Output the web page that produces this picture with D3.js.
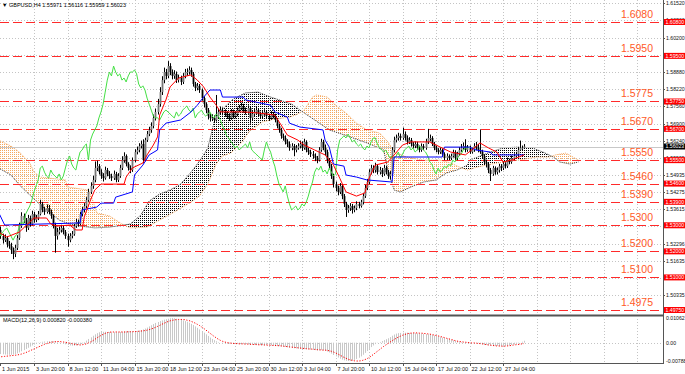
<!DOCTYPE html>
<html><head><meta charset="utf-8">
<script src="https://cdn.jsdelivr.net/npm/d3@7"></script>
<style>body{margin:0;background:#fff;}svg{display:block;font-family:"Liberation Sans",Arial,sans-serif;}</style>
</head><body><svg id="c" width="685" height="374"></svg>
<script>
// ---------- DATA ----------
const symbolHeader = "GBPUSD,H4 1.55971 1.56116 1.55959 1.56023";
const macdHeader = "MACD(12,26,9) 0.000820 -0.000380";
const firstOpen = 1.5275;
const closes = [
1.5282,1.5259,1.5243,1.5251,1.5228,1.5220, 1.5205,1.5190,1.5213,1.5251,1.5297,1.5336,
1.5320,1.5290,1.5328,1.5305,1.5343,1.5320, 1.5328,1.5343,1.5382,1.5359,1.5351,1.5366,
1.5351,1.5336,1.5297,1.5259,1.5274,1.5282, 1.5290,1.5274,1.5259,1.5243,1.5259,1.5266,
1.5297,1.5313,1.5305,1.5343,1.5359,1.5374, 1.5397,1.5428,1.5451,1.5474,1.5520,1.5527,
1.5504,1.5489,1.5481,1.5512,1.5497,1.5489, 1.5481,1.5497,1.5474,1.5489,1.5520,1.5550,
1.5566,1.5535,1.5520,1.5512,1.5550,1.5581, 1.5589,1.5604,1.5612,1.5550,1.5627,1.5650,
1.5666,1.5681,1.5712,1.5735,1.5765,1.5811, 1.5857,1.5888,1.5873,1.5911,1.5888,1.5873,
1.5881,1.5857,1.5865,1.5850,1.5873,1.5888, 1.5888,1.5896,1.5881,1.5842,1.5827,1.5835,
1.5819,1.5788,1.5765,1.5742,1.5719,1.5712, 1.5712,1.5704,1.5719,1.5735,1.5742,1.5735,
1.5727,1.5719,1.5712,1.5735,1.5719,1.5727, 1.5742,1.5750,1.5758,1.5742,1.5735,1.5750,
1.5712,1.5727,1.5735,1.5742,1.5727,1.5719, 1.5727,1.5735,1.5719,1.5712,1.5727,1.5719,
1.5704,1.5681,1.5666,1.5643,1.5635,1.5620, 1.5612,1.5597,1.5604,1.5589,1.5597,1.5604,
1.5612,1.5597,1.5620,1.5589,1.5581,1.5573, 1.5566,1.5558,1.5550,1.5589,1.5620,1.5597,
1.5581,1.5550,1.5527,1.5489,1.5458,1.5443, 1.5428,1.5451,1.5412,1.5382,1.5359,1.5366,
1.5374,1.5359,1.5366,1.5382,1.5374,1.5389, 1.5412,1.5443,1.5466,1.5504,1.5520,1.5512,
1.5527,1.5504,1.5512,1.5497,1.5520,1.5504, 1.5489,1.5497,1.5589,1.5627,1.5635,1.5643,
1.5635,1.5650,1.5635,1.5620,1.5627,1.5612, 1.5604,1.5612,1.5597,1.5589,1.5604,1.5597,
1.5620,1.5635,1.5635,1.5612,1.5597,1.5589, 1.5581,1.5589,1.5573,1.5558,1.5566,1.5558,
1.5566,1.5581,1.5558,1.5573,1.5589,1.5597, 1.5604,1.5589,1.5597,1.5581,1.5589,1.5604,
1.5597,1.5589,1.5581,1.5566,1.5543,1.5535, 1.5512,1.5497,1.5520,1.5504,1.5512,1.5527,
1.5520,1.5535,1.5527,1.5550,1.5543,1.5558, 1.5566,1.5573,1.5589,1.5597,1.5597,1.56023];
const highs = [
1.5302,1.5295,1.5268,1.5265,1.5258,1.5240, 1.5233,1.5215,1.5225,1.5262,1.5310,1.5350,
1.5345,1.5328,1.5340,1.5337,1.5356,1.5352, 1.5340,1.5355,1.5398,1.5390,1.5370,1.5380,
1.5378,1.5360,1.5342,1.5310,1.5290,1.5295, 1.5302,1.5300,1.5282,1.5268,1.5270,1.5278,
1.5305,1.5325,1.5322,1.5352,1.5370,1.5385, 1.5408,1.5440,1.5465,1.5490,1.5545,1.5548,
1.5535,1.5515,1.5500,1.5525,1.5520,1.5508, 1.5498,1.5510,1.5505,1.5500,1.5532,1.5565,
1.5580,1.5572,1.5542,1.5530,1.5560,1.5592, 1.5602,1.5615,1.5625,1.5630,1.5636,1.5662,
1.5678,1.5695,1.5725,1.5748,1.5785,1.5830, 1.5872,1.5905,1.5900,1.5930,1.5922,1.5898,
1.5895,1.5890,1.5878,1.5874,1.5884,1.5900, 1.5902,1.5910,1.5905,1.5888,1.5850,1.5846,
1.5842,1.5825,1.5795,1.5772,1.5750,1.5730, 1.5726,1.5722,1.5800,1.5748,1.5756,1.5752,
1.5745,1.5738,1.5730,1.5746,1.5744,1.5738, 1.5752,1.5762,1.5770,1.5766,1.5752,1.5760,
1.5755,1.5738,1.5746,1.5754,1.5750,1.5736, 1.5738,1.5745,1.5742,1.5728,1.5738,1.5735,
1.5728,1.5712,1.5690,1.5674,1.5652,1.5645, 1.5630,1.5622,1.5615,1.5612,1.5608,1.5615,
1.5625,1.5622,1.5632,1.5626,1.5598,1.5590, 1.5585,1.5576,1.5566,1.5600,1.5632,1.5628,
1.5610,1.5590,1.5558,1.5535,1.5498,1.5468, 1.5452,1.5462,1.5458,1.5420,1.5390,1.5378,
1.5385,1.5382,1.5376,1.5392,1.5390,1.5398, 1.5422,1.5455,1.5478,1.5515,1.5532,1.5530,
1.5540,1.5535,1.5524,1.5520,1.5532,1.5528, 1.5512,1.5508,1.5600,1.5640,1.5648,1.5655,
1.5652,1.5675,1.5660,1.5645,1.5638,1.5635, 1.5620,1.5622,1.5620,1.5606,1.5614,1.5612,
1.5632,1.5670,1.5648,1.5642,1.5620,1.5605, 1.5596,1.5598,1.5595,1.5580,1.5576,1.5572,
1.5575,1.5590,1.5588,1.5582,1.5600,1.5612, 1.5618,1.5630,1.5608,1.5606,1.5598,1.5615,
1.5620,1.5612,1.5668,1.5590,1.5572,1.5552, 1.5540,1.5520,1.5528,1.5526,1.5522,1.5536,
1.5535,1.5545,1.5542,1.5560,1.5556,1.5568, 1.5576,1.5582,1.5600,1.5625,1.5606,1.56116];
const lows = [
1.5262,1.5248,1.5230,1.5236,1.5215,1.5210, 1.5190,1.5170,1.5178,1.5205,1.5244,1.5290,
1.5308,1.5275,1.5282,1.5295,1.5300,1.5310, 1.5312,1.5320,1.5338,1.5350,1.5340,1.5345,
1.5342,1.5325,1.5288,1.5195,1.5245,1.5265, 1.5272,1.5265,1.5248,1.5218,1.5235,1.5250,
1.5260,1.5290,1.5295,1.5300,1.5335,1.5350, 1.5366,1.5390,1.5420,1.5440,1.5465,1.5508,
1.5495,1.5478,1.5468,1.5475,1.5488,1.5478, 1.5470,1.5474,1.5465,1.5466,1.5482,1.5512,
1.5540,1.5526,1.5510,1.5500,1.5505,1.5542, 1.5572,1.5580,1.5595,1.5538,1.5545,1.5620,
1.5642,1.5655,1.5672,1.5702,1.5725,1.5755, 1.5800,1.5845,1.5860,1.5865,1.5876,1.5860,
1.5862,1.5846,1.5848,1.5838,1.5842,1.5864, 1.5874,1.5878,1.5870,1.5832,1.5815,1.5818,
1.5808,1.5778,1.5752,1.5730,1.5706,1.5698, 1.5700,1.5692,1.5698,1.5710,1.5725,1.5722,
1.5716,1.5708,1.5700,1.5705,1.5710,1.5710, 1.5718,1.5735,1.5742,1.5732,1.5725,1.5728,
1.5690,1.5702,1.5718,1.5728,1.5718,1.5710, 1.5710,1.5720,1.5710,1.5700,1.5705,1.5710,
1.5695,1.5672,1.5655,1.5632,1.5625,1.5610, 1.5600,1.5586,1.5588,1.5565,1.5580,1.5590,
1.5595,1.5585,1.5590,1.5580,1.5570,1.5562, 1.5555,1.5546,1.5538,1.5545,1.5582,1.5588,
1.5570,1.5538,1.5515,1.5478,1.5445,1.5430, 1.5415,1.5420,1.5400,1.5370,1.5332,1.5348,
1.5355,1.5345,1.5350,1.5358,1.5365,1.5368, 1.5380,1.5405,1.5435,1.5458,1.5495,1.5500,
1.5502,1.5495,1.5495,1.5485,1.5490,1.5495, 1.5478,1.5475,1.5485,1.5580,1.5618,1.5625,
1.5625,1.5628,1.5625,1.5610,1.5612,1.5602, 1.5595,1.5596,1.5588,1.5580,1.5582,1.5588,
1.5590,1.5612,1.5622,1.5604,1.5588,1.5580, 1.5572,1.5574,1.5565,1.5550,1.5550,1.5550,
1.5550,1.5560,1.5550,1.5550,1.5566,1.5582, 1.5590,1.5580,1.5582,1.5574,1.5575,1.5582,
1.5588,1.5580,1.5574,1.5556,1.5532,1.5522, 1.5500,1.5470,1.5490,1.5494,1.5495,1.5502,
1.5508,1.5512,1.5518,1.5520,1.5534,1.5536, 1.5550,1.5560,1.5566,1.5585,1.5586,1.55959];

// Ichimoku lines: [bar, price]
const tenkan = [[0,1.5274],[4,1.5255],[10,1.5274],[14,1.5305],[17,1.5328],[23,1.5328],[25,1.5305],[28,1.5297],[34,1.5301],[37,1.5282],[40,1.5282],[41,1.5332],[44,1.5397],[46,1.5435],[49,1.5458],[60,1.5458],[61,1.5485],[64,1.5520],[69,1.5539],[71,1.5570],[74,1.5608],[76,1.5639],[77,1.5723],[80,1.5781],[82,1.5831],[86,1.5865],[92,1.5877],[95,1.5857],[98,1.5831],[101,1.5792],[104,1.5761],[106,1.5735],[117,1.5735],[124,1.5731],[132,1.5723],[135,1.5685],[138,1.5646],[143,1.5627],[146,1.5608],[151,1.5589],[156,1.5570],[160,1.5531],[163,1.5481],[166,1.5428],[171,1.5412],[175,1.5424],[177,1.5481],[180,1.5531],[186,1.5543],[189,1.5570],[193,1.5608],[197,1.5620],[206,1.5620],[211,1.5600],[216,1.5581],[223,1.5570],[226,1.5589],[230,1.5616],[234,1.5597],[238,1.5581],[241,1.5543],[245,1.5550],[251,1.5570]];
const kijun = [[0,1.5351],[3,1.5301],[39,1.5309],[40,1.5359],[47,1.5370],[49,1.5385],[55,1.5385],[56,1.5408],[64,1.5428],[65,1.5493],[69,1.5531],[72,1.5570],[76,1.5589],[77,1.5666],[80,1.5692],[87,1.5704],[92,1.5735],[95,1.5761],[98,1.5792],[101,1.5819],[106,1.5819],[107,1.5792],[117,1.5792],[118,1.5781],[130,1.5761],[132,1.5735],[138,1.5715],[139,1.5692],[144,1.5677],[155,1.5666],[156,1.5627],[158,1.5600],[160,1.5535],[165,1.5527],[166,1.5493],[171,1.5485],[176,1.5474],[188,1.5466],[189,1.5562],[212,1.5562],[213,1.5600],[225,1.5600],[228,1.5589],[235,1.5581],[236,1.5570],[251,1.5570]];
const spanA = [[0,1.5520],[6,1.5493],[10,1.5455],[15,1.5416],[20,1.5378],[25,1.5347],[29,1.5320],[34,1.5305],[39,1.5297],[46,1.5290],[53,1.5293],[60,1.5301],[63,1.5305],[68,1.5339],[72,1.5393],[77,1.5420],[82,1.5435],[87,1.5458],[92,1.5504],[95,1.5535],[98,1.5570],[100,1.5597],[103,1.5696],[106,1.5738],[112,1.5784],[118,1.5808],[124,1.5811],[130,1.5792],[140,1.5765],[144,1.5742],[149,1.5715],[158,1.5666],[168,1.5639],[176,1.5616],[184,1.5589],[186,1.5512],[189,1.5435],[192,1.5428],[197,1.5447],[203,1.5466],[209,1.5474],[214,1.5501],[219,1.5512],[224,1.5531],[225,1.5550],[235,1.5581],[241,1.5597],[248,1.5600],[255,1.5597],[260,1.5581],[265,1.5562],[268,1.5543],[273,1.5535],[277,1.5543]];
const spanB = [[0,1.5627],[6,1.5604],[10,1.5581],[15,1.5539],[17,1.5504],[20,1.5485],[32,1.5474],[33,1.5447],[43,1.5435],[45,1.5397],[47,1.5347],[53,1.5336],[59,1.5305],[63,1.5290],[71,1.5293],[77,1.5320],[84,1.5351],[92,1.5389],[96,1.5412],[100,1.5458],[104,1.5535],[107,1.5566],[111,1.5577],[116,1.5616],[120,1.5662],[126,1.5696],[132,1.5708],[139,1.5715],[143,1.5727],[146,1.5742],[150,1.5792],[152,1.5800],[157,1.5792],[162,1.5754],[166,1.5731],[171,1.5692],[176,1.5666],[182,1.5654],[186,1.5620],[189,1.5581],[195,1.5562],[203,1.5550],[211,1.5550],[216,1.5539],[220,1.5524],[224,1.5512],[229,1.5524],[238,1.5539],[248,1.5550],[257,1.5562],[263,1.5562],[266,1.5570],[271,1.5577],[277,1.5550]];

const macdMain = [
-0.0048,-0.0049,-0.0050,-0.0051,-0.0052,-0.0052,-0.0052,-0.0051,-0.0049,-0.0046,-0.0042,
-0.0037,-0.0032,-0.0027,-0.0022,-0.0017,-0.0012,-0.0008,
-0.0004,-0.0001,0.0002,0.0004,0.0005,
0.0006,0.0007,0.0007,0.0006,0.0005,0.0003,0.0001,-0.0001,-0.0004,-0.0007,-0.0010,
-0.0012,-0.0013,-0.0013,-0.0012,-0.0010,-0.0007,-0.0003,
0.0003,0.0009,0.0016,0.0023,0.0030,0.0036,0.0041,0.0045,
0.0046,0.0047,0.0047,0.0046,0.0046,0.0045,0.0045,0.0044,0.0045,0.0046,0.0047,0.0048,0.0049,0.0050,0.0050,0.0049,0.0050,0.0051,0.0052,
0.0054,0.0057,0.0061,0.0065,0.0070,0.0075,0.0080,0.0085,0.0089,0.0093,0.0096,0.0099,0.0101,
0.0103,0.0105,0.01062,0.0105,0.0103,0.0100,0.0098,0.0096,0.0093,0.0090,
0.0086,0.0081,0.0076,0.0070,0.0064,0.0057,0.0050,0.0043,0.0036,0.0029,0.0022,0.0016,0.0011,
0.0006,0.0002,0.0000,-0.0002,-0.0003,-0.0004,-0.0004,-0.0005,-0.0005,-0.0005,
-0.0005,-0.0006,-0.0006,-0.0006,-0.0007,-0.0007,-0.0008,-0.0008,-0.0009,-0.0009,-0.0010,-0.0010,-0.0010,-0.0011,-0.0011,-0.0012,-0.0012,-0.0013,-0.0013,-0.0014,-0.0015,-0.0016,-0.0017,-0.0018,
-0.0020,-0.0022,-0.0023,-0.0024,-0.0025,-0.0026,-0.0026,-0.0027,-0.0028,-0.0028,-0.0029,-0.0030,-0.0031,-0.0032,-0.0033,-0.0033,-0.0032,-0.0033,-0.0035,-0.0038,-0.0042,-0.0047,-0.0053,
-0.0059,-0.0064,-0.0069,-0.0073,-0.0076,-0.0078,-0.007887,-0.00788,
-0.0077,-0.0074,-0.0070,-0.0065,-0.0059,-0.0052,-0.0044,-0.0036,-0.0027,
-0.0019,-0.0012,-0.0006,-0.0001,0.0003,0.0007,0.0011,0.0015,0.0019,0.0024,0.0030,0.0035,0.0039,
0.0041,0.0042,0.0043,0.0043,0.0043,0.0042,0.0042,0.0041,0.0041,0.0040,0.0040,0.0039,0.0038,0.0037,0.0036,
0.0035,0.0033,0.0031,0.0029,0.0027,0.0024,0.0022,0.0020,0.0017,0.0015,0.0012,0.0010,
0.0008,0.0006,0.0004,0.0003,0.0002,0.0002,0.0001,0.0001,0.0000,0.0000,-0.0001,-0.0002,-0.0004,
-0.0006,-0.0008,-0.0010,-0.0011,-0.0012,-0.0013,-0.0014,-0.0014,-0.0015,-0.0015,-0.0014,-0.0014,-0.0013,-0.0012,-0.0010,-0.0008,-0.0006,
-0.0003,0.0000,0.0004,0.00082];
const macdSignal = [
-0.0062,-0.0061,-0.0060,-0.0059,-0.0058,-0.0057,-0.0056,-0.0055,-0.0054,-0.0053,-0.0051,
-0.0049,-0.0046,-0.0043,-0.0039,-0.0035,-0.0031,-0.0027,-0.0023,-0.0019,-0.0015,-0.0011,-0.0007,-0.0004,-0.0001,0.0001,
0.0003,0.0004,0.0005,0.0005,0.0004,0.0003,0.0002,0.0000,-0.0002,-0.0004,-0.0006,-0.0008,-0.0009,-0.0010,-0.0009,
-0.0007,-0.0005,-0.0001,0.0003,0.0008,0.0014,0.0020,0.0026,0.0031,0.0036,0.0040,0.0043,0.0045,0.0046,0.0046,
0.0046,0.0046,0.0046,0.0046,0.0046,0.0046,0.0047,0.0047,0.0047,0.0048,0.0048,0.0049,
0.0050,0.0051,0.0052,0.0054,0.0056,0.0059,0.0062,0.0066,0.0070,0.0074,0.0079,0.0083,0.0087,
0.0091,0.0094,0.0096,0.0098,0.0099,0.0100,0.0100,0.0100,0.0099,0.0097,
0.0095,0.0092,0.0088,0.0084,0.0079,0.0074,0.0068,0.0062,0.0055,0.0048,0.0041,0.0034,0.0027,
0.0021,0.0015,0.0010,0.0006,0.0003,0.0001,-0.0001,-0.0002,-0.0003,-0.0004,
-0.0004,-0.0005,-0.0005,-0.0005,-0.0006,-0.0006,-0.0007,-0.0007,-0.0008,-0.0008,-0.0009,-0.0009,-0.0009,-0.0010,-0.0010,-0.0011,-0.0011,-0.0012,-0.0012,-0.0013,-0.0013,-0.0014,-0.0015,-0.0016,
-0.0017,-0.0018,-0.0019,-0.0020,-0.0021,-0.0022,-0.0023,-0.0024,-0.0025,-0.0026,-0.0027,-0.0027,-0.0028,-0.0029,-0.0030,-0.0031,-0.0031,-0.0032,-0.0032,-0.0033,-0.0035,-0.0037,-0.0040,
-0.0044,-0.0048,-0.0053,-0.0058,-0.0063,-0.0067,-0.0071,-0.0074,
-0.0076,-0.0078,-0.0079,-0.0079,-0.0078,-0.0076,-0.0073,-0.0069,-0.0064,
-0.0058,-0.0051,-0.0044,-0.0037,-0.0030,-0.0023,-0.0016,-0.0010,-0.0004,0.0002,0.0008,0.0014,0.0019,
0.0024,0.0028,0.0032,0.0035,0.0038,0.0040,0.0041,0.0042,0.0042,0.0042,0.0041,0.0041,0.0040,0.0039,0.0038,
0.0037,0.0035,0.0033,0.0031,0.0029,0.0027,0.0024,0.0022,0.0019,0.0017,0.0014,0.0012,
0.0009,0.0007,0.0005,0.0004,0.0003,0.0002,0.0001,0.0000,-0.0001,-0.0001,-0.0002,-0.0003,-0.0004,
-0.0005,-0.0007,-0.0008,-0.0010,-0.0011,-0.0012,-0.0013,-0.0014,-0.0014,-0.0015,-0.0015,-0.0015,-0.0014,-0.0013,-0.0012,-0.0010,-0.0009,
-0.0008,-0.0007,-0.0005,-0.00038];

const levels = [1.6080,1.5950,1.5775,1.5670,1.5550,1.5460,1.5390,1.5300,1.5200,1.5100,1.4975];
const levelLabels = ["1.6080","1.5950","1.5775","1.5670","1.5550","1.5460","1.5390","1.5300","1.5200","1.5100","1.4975"];
const priceTicks = [1.61520,1.60860,1.60200,1.59540,1.58880,1.58220,1.57560,1.56900,1.56240,1.55595,1.54935,1.54275,1.53615,1.52955,1.52296,1.51635,1.50975,1.50335];
const currentPrice = 1.56023;
const macdTicks = [0.01062, 0, -0.007887];
const macdTickLabels = ["0.01062","0.00","-0.007887"];
const dateBars = [0,17,33,49,65,81,97,113,129,145,161,177,193,209,225,241];
const dateLabels = ["1 Jun 2015","3 Jun 20:00","8 Jun 12:00","11 Jun 04:00","15 Jun 20:00","18 Jun 12:00","23 Jun 04:00","25 Jun 20:00","30 Jun 12:00","3 Jul 04:00","7 Jul 20:00","10 Jul 12:00","15 Jul 04:00","17 Jul 20:00","22 Jul 12:00","27 Jul 04:00"];
const chikouShift = 26;

// ---------- LAYOUT ----------
const plotR = 663, mainB = 315, macdT = 316, macdB = 363;
const svg = d3.select("#c");
const x = d3.scaleLinear().domain([0, 277]).range([-1.6, 578.44]);
const yP = d3.scaleLinear().domain([1.4975, 1.6080]).range([310, 22]);
const yM = d3.scaleLinear().domain([-0.007887, 0.01062]).range([361, 318]);
const defs = svg.append("defs");
defs.append("clipPath").attr("id","clipMain").append("rect").attr("x",0).attr("y",0).attr("width",plotR).attr("height",mainB-1);
defs.append("clipPath").attr("id","clipMacd").append("rect").attr("x",0).attr("y",macdT+1).attr("width",plotR).attr("height",macdB-macdT-1);
function pat(id,color){const p=defs.append("pattern").attr("id",id).attr("width",2).attr("height",2).attr("patternUnits","userSpaceOnUse");p.append("rect").attr("width",1).attr("height",1).attr("fill",color);}
pat("pOr","#f4a860"); pat("pBk","#000");
const areaAbove = d3.area().x(d=>x(d[0])).y0(0).y1(d=>yP(d[1]));
const areaBelow = d3.area().x(d=>x(d[0])).y0(d=>yP(d[1])).y1(mainB);
defs.append("clipPath").attr("id","clipAboveA").append("path").attr("d",areaAbove(spanA));
defs.append("clipPath").attr("id","clipAboveB").append("path").attr("d",areaAbove(spanB));

const gridColor = "#c4c4c4";
const gridBars = [];
for (let b = 17; x(b) < plotR; b += 16) gridBars.push(b);
const px = v => Math.round(v) + 0.5;

// ---- main window ----
const main = svg.append("g").attr("clip-path","url(#clipMain)");
main.selectAll(".vg").data(gridBars).enter().append("line")
  .attr("x1",d=>px(x(d))).attr("x2",d=>px(x(d))).attr("y1",0).attr("y2",mainB)
  .attr("stroke",gridColor).attr("stroke-dasharray","1,2");
main.selectAll(".hg").data(priceTicks).enter().append("line")
  .attr("x1",0).attr("x2",plotR).attr("y1",d=>px(yP(d))).attr("y2",d=>px(yP(d)))
  .attr("stroke",gridColor).attr("stroke-dasharray","1,2");

// cloud
main.append("path").attr("d",areaBelow(spanB)).attr("fill","url(#pOr)").attr("clip-path","url(#clipAboveA)");
main.append("path").attr("d",areaBelow(spanA)).attr("fill","url(#pBk)").attr("clip-path","url(#clipAboveB)");
const lineP = d3.line().x(d=>x(d[0])).y(d=>yP(d[1]));
main.append("path").attr("d",lineP(spanB)).attr("fill","none").attr("stroke","#f4a860").attr("stroke-dasharray","1,1");
main.append("path").attr("d",lineP(spanA)).attr("fill","none").attr("stroke","#333").attr("stroke-dasharray","1,1");

// level lines
main.selectAll(".lvl").data(levels).enter().append("line")
  .attr("x1",0).attr("x2",plotR).attr("y1",d=>px(yP(d))).attr("y2",d=>px(yP(d)))
  .attr("stroke","#ff2a2a").attr("stroke-width",1).attr("stroke-dasharray","9,4");
// bid line
main.append("line").attr("x1",0).attr("x2",plotR).attr("y1",px(yP(currentPrice))).attr("y2",px(yP(currentPrice))).attr("stroke","#c8c8c8");

// candles
const opens = closes.map((c,i)=> i===0 ? firstOpen : closes[i-1]);
const cg = main.append("g");
closes.forEach((c,i)=>{
  const cx = Math.round(x(i));
  cg.append("line").attr("x1",cx+0.5).attr("x2",cx+0.5).attr("y1",yP(highs[i])).attr("y2",yP(lows[i])).attr("stroke","#000");
  const o = opens[i], top = yP(Math.max(o,c)), bot = yP(Math.min(o,c));
  cg.append("rect").attr("x",cx-0.4).attr("width",1.8).attr("y",top).attr("height",Math.max(bot-top,0.8))
    .attr("fill", c>=o ? "#777" : "#000");
});

// chikou, kijun, tenkan
main.append("path").attr("d", d3.line().x((d,i)=>x(i-chikouShift)).y(d=>yP(d))(closes))
  .attr("fill","none").attr("stroke","#44e044").attr("stroke-width",1);
main.append("path").attr("d",lineP(kijun)).attr("fill","none").attr("stroke","#0000ff");
main.append("path").attr("d",lineP(tenkan)).attr("fill","none").attr("stroke","#ff0000");

// level text labels
svg.selectAll(".lvt").data(levels).enter().append("text")
  .attr("x",653).attr("y",d=>yP(d)-4).attr("text-anchor","end")
  .attr("font-size",10.5).attr("fill","#ff5a28").text((d,i)=>levelLabels[i]);

// header
svg.append("text").attr("x",2).attr("y",7).attr("font-size",5.5).attr("fill","#000").text("\u25BC " + symbolHeader);

// separator between windows
svg.append("line").attr("x1",0).attr("x2",plotR).attr("y1",mainB+0.5).attr("y2",mainB+0.5).attr("stroke","#555").attr("stroke-width",2);

// ---- MACD window ----
const mg = svg.append("g").attr("clip-path","url(#clipMacd)");
mg.selectAll(".vg").data(gridBars).enter().append("line")
  .attr("x1",d=>px(x(d))).attr("x2",d=>px(x(d))).attr("y1",macdT).attr("y2",macdB)
  .attr("stroke",gridColor).attr("stroke-dasharray","1,2");
mg.append("line").attr("x1",0).attr("x2",plotR).attr("y1",px(yM(0))).attr("y2",px(yM(0)))
  .attr("stroke",gridColor).attr("stroke-dasharray","1,2");
mg.selectAll(".hb").data(macdMain).enter().append("line")
  .attr("x1",(d,i)=>px(x(i))).attr("x2",(d,i)=>px(x(i)))
  .attr("y1",yM(0)).attr("y2",d=>yM(d)).attr("stroke","#c8c8c8");
mg.append("path").attr("d", d3.line().x((d,i)=>x(i)).y(d=>yM(d))(macdSignal))
  .attr("fill","none").attr("stroke","#ff0000").attr("stroke-dasharray","1.2,1.6");
svg.append("text").attr("x",3).attr("y",322).attr("font-size",5.5).attr("fill","#000").text(macdHeader);

// ---- axes ----
svg.append("line").attr("x1",plotR+0.5).attr("x2",plotR+0.5).attr("y1",0).attr("y2",macdB+1).attr("stroke","#555");
svg.append("line").attr("x1",0).attr("x2",plotR+1).attr("y1",macdB+0.5).attr("y2",macdB+0.5).attr("stroke","#555");
svg.selectAll(".pt").data(priceTicks).enter().append("line")
  .attr("x1",plotR).attr("x2",plotR+2).attr("y1",d=>px(yP(d))).attr("y2",d=>px(yP(d))).attr("stroke","#555");
svg.selectAll(".ptl").data(priceTicks).enter().append("text")
  .attr("x",plotR+3).attr("y",d=>yP(d)+2).attr("font-size",5.2).attr("fill","#111").text(d=>d3.format(".5f")(d));
// level boxes
const lb = svg.selectAll(".lb").data(levels).enter().append("g");
lb.append("rect").attr("x",plotR+1).attr("y",d=>yP(d)-3).attr("width",21).attr("height",6).attr("fill","#ff0000");
lb.append("text").attr("x",plotR+2.5).attr("y",d=>yP(d)+1.8).attr("font-size",5.2).attr("fill","#fff").text(d=>d3.format(".5f")(d));
// current price box
svg.append("rect").attr("x",plotR+1).attr("y",yP(currentPrice)-3).attr("width",21).attr("height",6).attr("fill","#000");
svg.append("text").attr("x",plotR+2.5).attr("y",yP(currentPrice)+1.8).attr("font-size",5.2).attr("fill","#fff").text(d3.format(".5f")(currentPrice));
// macd labels
svg.selectAll(".mtl").data(macdTicks).enter().append("text")
  .attr("x",plotR+3).attr("y",d=>yM(d)+2).attr("font-size",5.2).attr("fill","#111").text((d,i)=>macdTickLabels[i]);
// date axis
svg.selectAll(".dt").data(dateBars).enter().append("line")
  .attr("x1",d=>px(Math.max(x(d),0))).attr("x2",d=>px(Math.max(x(d),0)))
  .attr("y1",macdB).attr("y2",macdB+3).attr("stroke","#555");
svg.selectAll(".dtl").data(dateBars).enter().append("text")
  .attr("x",d=>Math.max(x(d),0)+2).attr("y",371).attr("font-size",5.5).attr("fill","#111").text((d,i)=>dateLabels[i]);
</script></body></html>
